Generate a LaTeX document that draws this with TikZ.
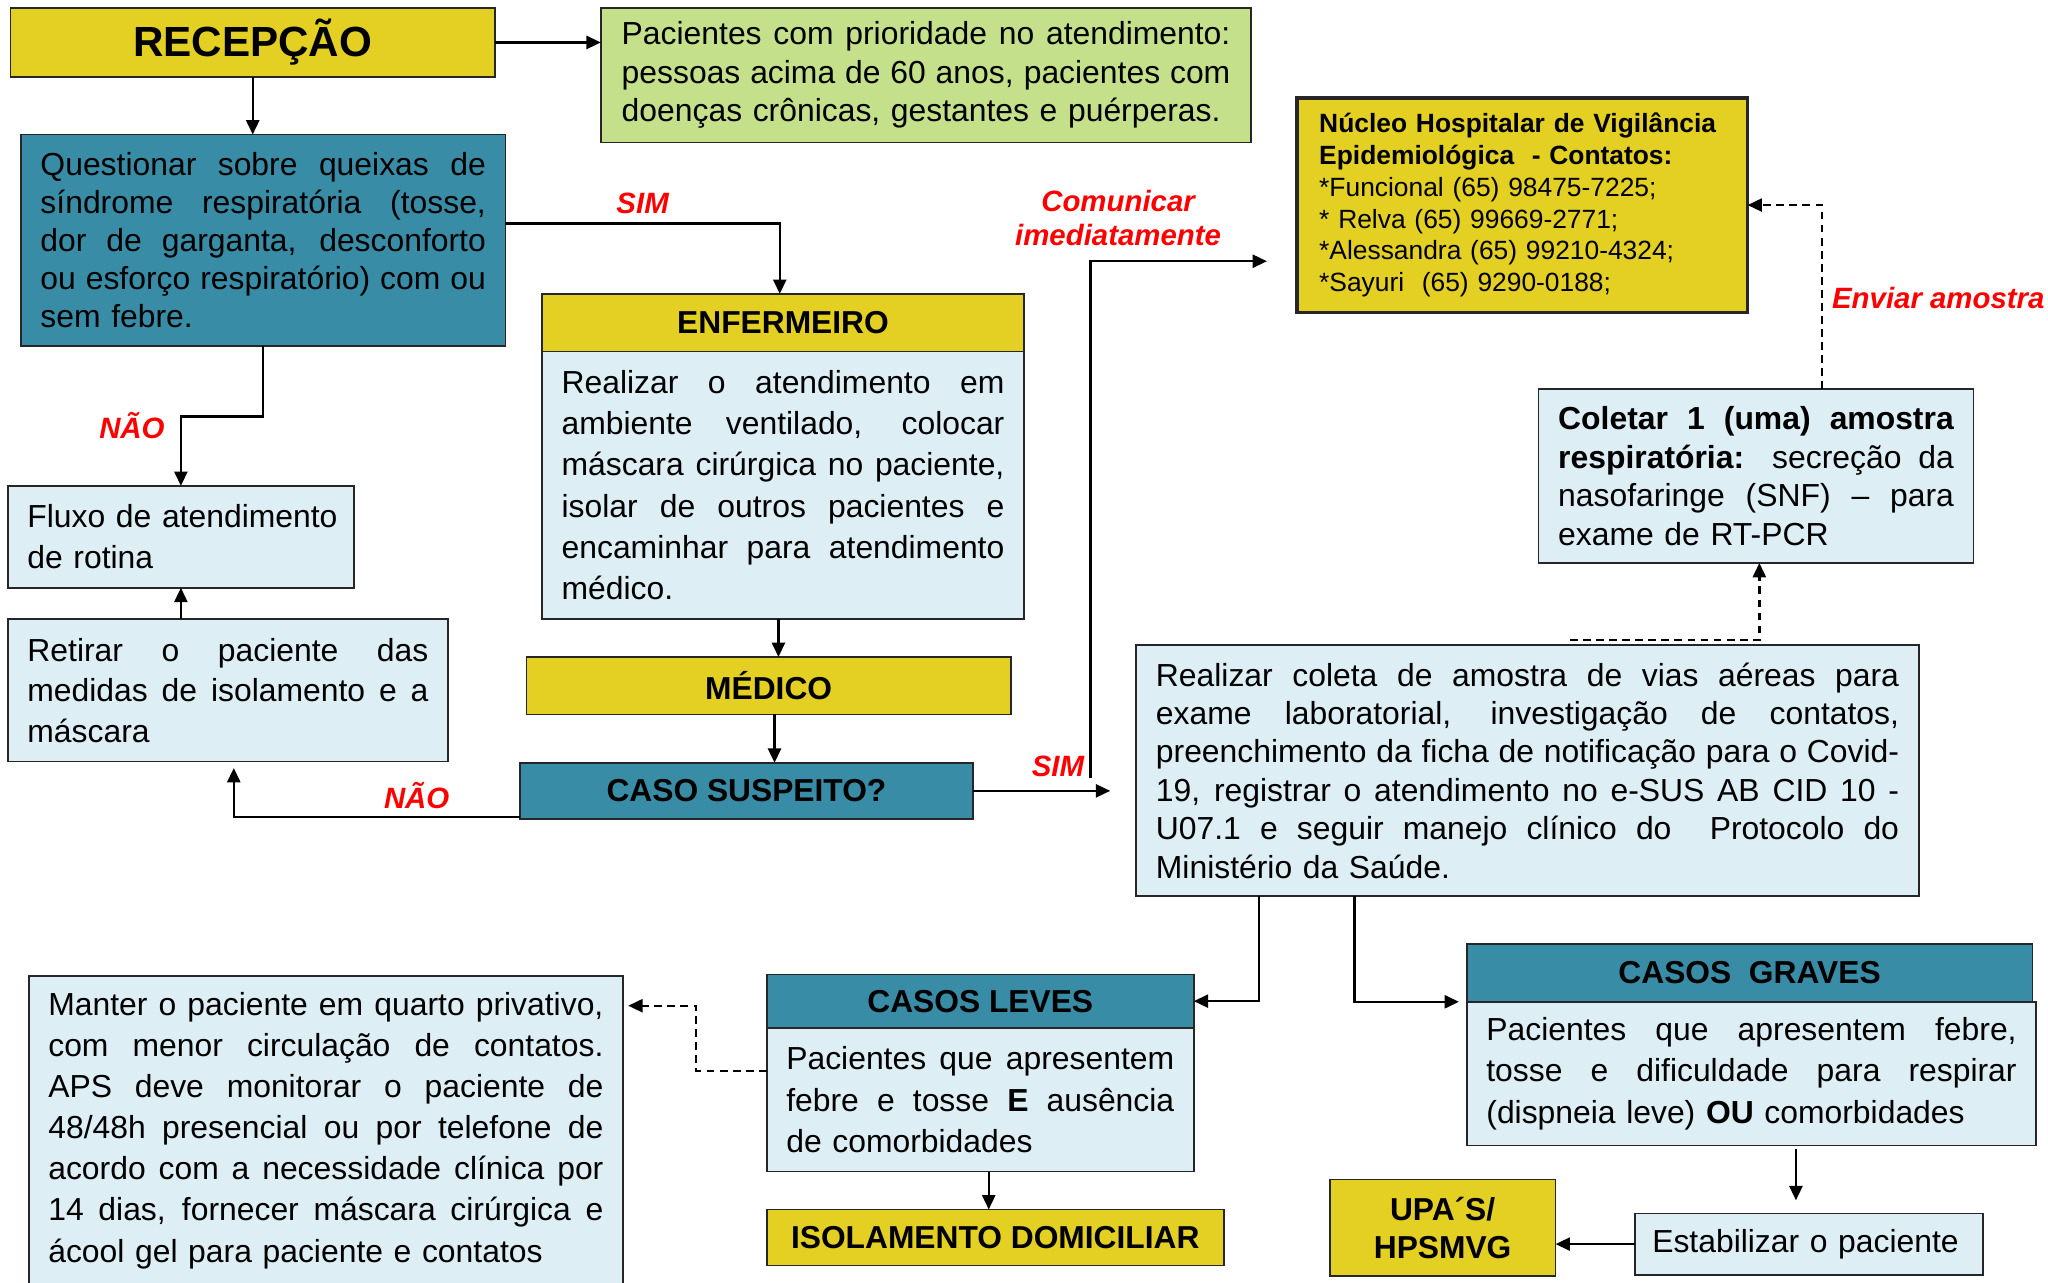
\documentclass[tikz,border=0pt]{standalone}
\usepackage{fontspec}
\setmainfont{Liberation Sans}
\usetikzlibrary{arrows.meta}
\definecolor{cyel}{RGB}{227,208,35}
\definecolor{cteal}{RGB}{56,140,166}
\definecolor{clb}{RGB}{221,238,245}
\definecolor{cgrn}{RGB}{196,224,138}
\setlength\parindent{0pt}
\newcommand\jl[1]{\makebox[\hsize][s]{\spaceskip=0pt\xspaceskip=0pt #1}}
\begin{document}
\begin{tikzpicture}[x=1pt,y=-1pt,
 bx/.style={draw=black!85, line width=1.3pt, anchor=north west, inner xsep=15pt, inner ysep=0pt, outer sep=0pt, align=left},
 hd/.style={draw=black!85, line width=1.3pt, anchor=north west, inner sep=0pt, outer sep=0pt, align=center, font=\bfseries\fontsize{24.3}{29}\selectfont},
 lbl/.style={text=red, font=\bfseries\itshape\fontsize{22.5}{26}\selectfont, inner sep=0pt, align=center},
 arr/.style={line width=1.8pt, -{Triangle[length=11pt,width=10pt]}},
 dsh/.style={arr, dash pattern=on 6pt off 4pt}
]
\fill[white] (0,0) rectangle (1568,982);
\useasboundingbox (0,0) rectangle (1568,982);

% boxes
\node[hd, fill=cyel, minimum width=371pt, minimum height=53pt, font=\bfseries\fontsize{32.3}{36}\selectfont] (rec) at (8,6) {RECEPÇÃO};

\node[bx, fill=cgrn, inner xsep=16pt, text width=466pt, minimum height=103pt, font=\fontsize{24.4}{29.5}\selectfont] (grn) at (460,6)
 {\jl{Pacientes com prioridade no atendimento:}\\\jl{pessoas acima de 60 anos, pacientes com}\\doenças crônicas, gestantes e puérperas.};

\node[bx, fill=cteal, text width=341pt, minimum height=162pt, font=\fontsize{24.4}{29.2}\selectfont] (q) at (16,103)
 {\jl{Questionar sobre queixas de}\\\jl{síndrome respiratória (tosse,}\\\jl{dor de garganta, desconforto}\\\jl{ou esforço respiratório) com ou}\\sem febre.};

\node[bx, fill=clb, inner xsep=15pt, text width=235pt, minimum height=78pt, font=\fontsize{24.4}{31}\selectfont] (flux) at (6,372)
 {\mbox{Fluxo de atendimento}\\de rotina};

\node[bx, fill=clb, text width=307pt, minimum height=109pt, font=\fontsize{24.4}{31}\selectfont] (ret) at (6,474)
 {\jl{Retirar o paciente das}\\\jl{medidas de isolamento e a}\\máscara};

\node[hd, fill=cyel, minimum width=369pt, minimum height=44pt] (enfh) at (415,225) {ENFERMEIRO};
\node[bx, fill=clb, text width=339pt, minimum height=205pt, font=\fontsize{24.4}{31.6}\selectfont] (enfb) at (415,269)
 {\jl{Realizar o atendimento em}\\\jl{ambiente ventilado, colocar}\\\jl{máscara cirúrgica no paciente,}\\\jl{isolar de outros pacientes e}\\\jl{encaminhar para atendimento}\\médico.};

\node[hd, fill=cyel, minimum width=371pt, minimum height=44pt] (med) at (403,503) {MÉDICO};
\node[hd, fill=cteal, minimum width=347pt, minimum height=43pt] (caso) at (398,584) {CASO SUSPEITO?};

\node[bx, fill=cyel, line width=2.4pt, inner xsep=17pt, text width=311pt, minimum height=164pt, font=\fontsize{20.2}{24.4}\selectfont] (nuc) at (993,75)
 {\textbf{Núcleo Hospitalar de Vigilância}\\\textbf{Epidemiológica\ \ - Contatos:}\\{}*Funcional (65) 98475-7225;\\{}* Relva (65) 99669-2771;\\{}*Alessandra (65) 99210-4324;\\{}*Sayuri\ \ (65) 9290-0188;};

\node[bx, fill=clb, text width=303pt, minimum height=133pt, font=\fontsize{24.4}{29.5}\selectfont] (col) at (1178,298)
 {\jl{\textbf{Coletar 1 (uma) amostra}}\\\jl{\textbf{respiratória:} secreção da}\\\jl{nasofaringe (SNF) – para}\\exame de RT-PCR};

\node[bx, fill=clb, text width=569pt, minimum height=192pt, font=\fontsize{24.4}{29.4}\selectfont] (real) at (870,494)
 {\jl{Realizar coleta de amostra de vias aéreas para}\\\jl{exame laboratorial, investigação de contatos,}\\\jl{preenchimento da ficha de notificação para o Covid-}\\\jl{19, registrar o atendimento no e-SUS AB CID 10 -}\\\jl{U07.1 e seguir manejo clínico do\ \ Protocolo do}\\Ministério da Saúde.};

\node[hd, fill=cteal, minimum width=327pt, minimum height=41pt] (leh) at (587,746) {CASOS LEVES};
\node[bx, fill=clb, text width=297pt, minimum height=110pt, font=\fontsize{24.4}{32}\selectfont] (leb) at (587,787)
 {\jl{Pacientes que apresentem}\\\jl{febre e tosse \textbf{E} ausência}\\de comorbidades};

\node[bx, fill=clb, text width=425pt, minimum height=237pt, font=\fontsize{24.4}{31.5}\selectfont] (man) at (22,747)
 {\jl{Manter o paciente em quarto privativo,}\\\jl{com menor circulação de contatos.}\\\jl{APS deve monitorar o paciente de}\\\jl{48/48h presencial ou por telefone de}\\\jl{acordo com a necessidade clínica por}\\\jl{14 dias, fornecer máscara cirúrgica e}\\ácool gel para paciente e contatos};

\node[hd, fill=cyel, minimum width=350pt, minimum height=43pt] (iso) at (587,926) {ISOLAMENTO DOMICILIAR};

\node[hd, fill=cteal, minimum width=433pt, minimum height=44pt] (grh) at (1123,723) {CASOS\ \ GRAVES};
\node[bx, fill=clb, text width=406pt, minimum height=110pt, font=\fontsize{24.4}{31.5}\selectfont] (grb) at (1123,767)
 {\jl{Pacientes que apresentem febre,}\\\jl{tosse e dificuldade para respirar}\\(dispneia leve) \textbf{OU} comorbidades};

\node[bx, fill=clb, inner xsep=13pt, text width=240pt, minimum height=47pt, font=\fontsize{24.4}{29}\selectfont] (est) at (1252,929)
 {\mbox{Estabilizar o paciente}};

\node[hd, fill=cyel, minimum width=173pt, minimum height=74pt] (upa) at (1018,903) {UPA´S/\\HPSMVG};

% labels
\node[lbl] (sim1) at (492,156) {SIM};
\node[lbl] (nao1) at (101,326) {NÃO};
\node[lbl] (nao2) at (319,609) {NÃO};
\node[lbl] (sim2) at (810,587) {SIM};
\node[lbl] (com) at (856,167) {Comunicar\\imediatamente};
\node[lbl] (env) at (1484,228) {Enviar amostra};

% connectors
\draw[arr] (rec.east) -- (rec.east -| grn.west);
\draw[arr] (rec.south) -- (rec.south |- q.north);
\draw[arr] ([yshift=13pt]q.east) -| ([xshift=-2.5pt]enfh.north);
\draw[arr] (q.south) -- ++(0,54) -| (flux.north);
\draw[arr] (ret.north -| flux.south) -- (flux.south);
\coordinate (e1) at ([xshift=-3.5pt]enfb.south);
\draw[arr] (e1) -- (e1 |- med.north);
\coordinate (m1) at ([xshift=4.5pt]med.south);
\draw[arr] (m1) -- (m1 |- caso.north);
\draw[arr, shorten >=5pt] ([yshift=1.5pt]caso.south west) -| ([xshift=4.5pt]ret.south);
\draw[arr, shorten >=20pt] (caso.east) -- (caso.east -| real.west);
\coordinate (c1) at (835,596);
\draw[arr, shorten >=23pt] (c1) |- ([yshift=-43pt]nuc.west);
\coordinate (d1) at (1202,490);
\draw[dsh] (d1) -| ([xshift=2.5pt]col.south);
\draw[dsh] ([xshift=50.5pt]col.north) |- (nuc.east);
\draw[arr] ([xshift=94pt]real.south west) |- (leh.east);
\draw[arr, shorten >=6pt] ([xshift=167pt]real.south west) |- (grh.south west);
\draw[dsh] ([yshift=22pt]leb.west) -- ++(-54,0) |- ([yshift=95.5pt,xshift=4pt]man.east);
\coordinate (l1) at ([xshift=6.5pt]leb.south);
\draw[arr] (l1) -- (l1 |- iso.north);
\coordinate (ea) at ([xshift=-10pt]est.north);
\draw[arr, shorten <=3pt, shorten >=10pt] (ea |- grb.south) -- (ea);
\draw[arr] (est.west) -- (est.west -| upa.east);
\end{tikzpicture}
\end{document}
